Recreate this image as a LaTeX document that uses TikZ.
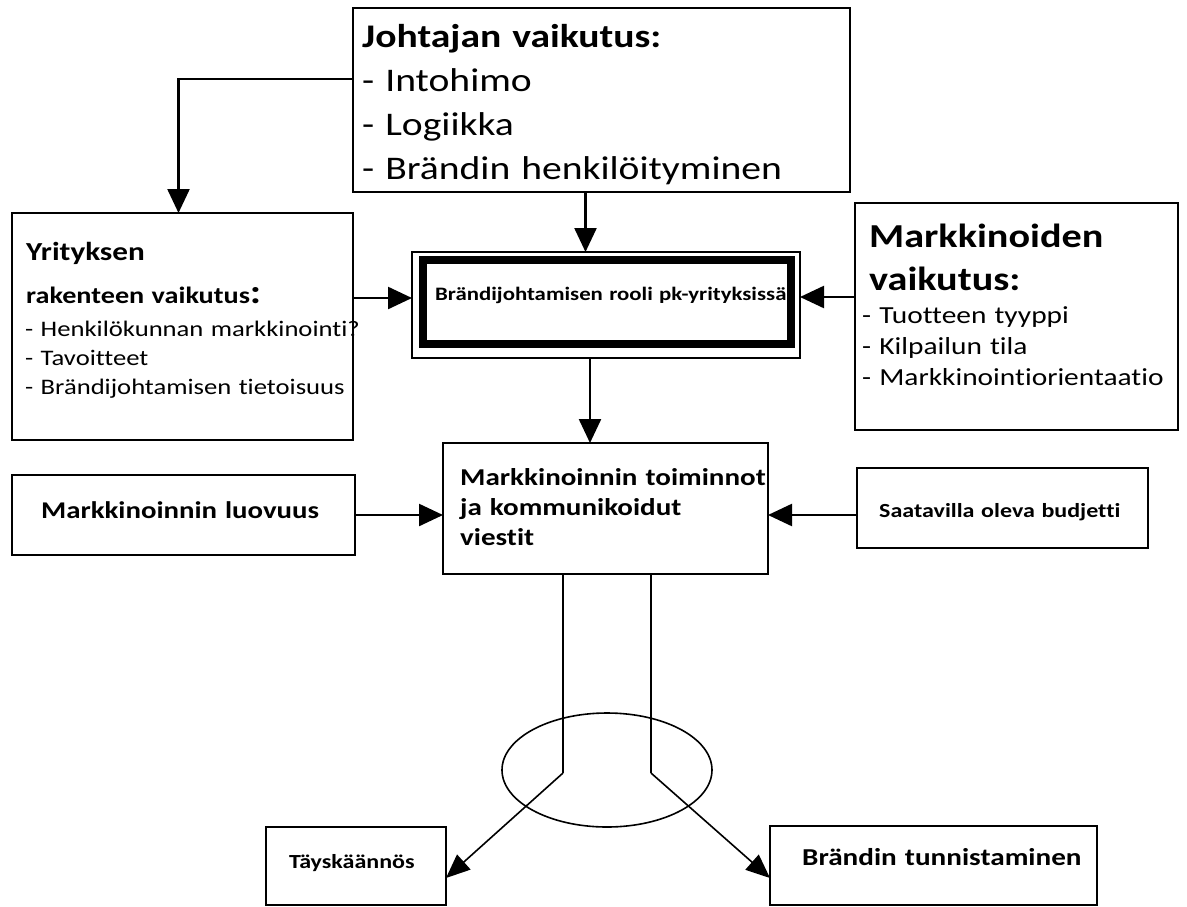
\documentclass[tikz,border=0pt]{standalone}
\usepackage{fontspec}
\setmainfont{Carlito}[FakeStretch=1.2,Ligatures=NoCommon]
\usetikzlibrary{positioning,arrows.meta,shapes.geometric}

\begin{document}
\begin{tikzpicture}[x=1pt,y=-1pt,
  box/.style={draw,line width=2.2pt,inner sep=0pt,outer sep=0pt},
  arr/.style={line width=2.4pt,-{Triangle[length=24pt,width=22pt]}},
  ohut/.style={line width=1.6pt},
  ohutarr/.style={line width=1.6pt,-{Triangle[length=24pt,width=20pt]}},
  txt/.style={anchor=base west,align=left,inner sep=0pt,text width=#1},
  txt/.default=420pt]
\useasboundingbox (0,0) rectangle (1187,906);
% --- laatikot ---
\node[box,minimum width=497,minimum height=184] (johtaja) at (601.5,100) {};
\node[box,minimum width=341,minimum height=227] (yritys) at (182.5,326.5) {};
\node[box,minimum width=323,minimum height=227] (markkinat) at (1016.5,316.5) {};
\node[box,line width=1.6pt,minimum width=388,minimum height=106] (rooli) at (606,305) {};
\node[box,line width=8pt,minimum width=368,minimum height=84] (rooliIn) at (606.75,301.75) {};
\node[box,minimum width=325,minimum height=131] (toiminnot) at (605.5,508.5) {};
\node[box,minimum width=343,minimum height=80] (luovuus) at (183.5,515) {};
\node[box,minimum width=291,minimum height=80] (budjetti) at (1002.5,508) {};
\node[box,minimum width=180,minimum height=78] (tays) at (356,866) {};
\node[box,minimum width=327,minimum height=79] (tunnistus) at (933.5,865.5) {};
\node[draw,ohut,ellipse,minimum width=210,minimum height=114] (rengas) at (607,770) {};
% --- tekstit ---
\node[txt=480pt,font=\fontsize{33}{44}\selectfont] (johtajaT) at ([shift={(9,39)}]johtaja.north west)
  {\textbf{Johtajan vaikutus:}\\- Intohimo\\- Logiikka\\- Brändin henkilöityminen};
\node[txt,font=\fontsize{22.2}{29}\selectfont] (yritysT) at ([shift={(13,47)}]yritys.north west)
  {{\fontsize{26}{29}\selectfont\bfseries\hspace*{1pt}Yrityksen}\\[14pt]
   {\fontsize{23.5}{29}\selectfont\bfseries\hspace*{1pt}rakenteen vaikutus{\fontsize{34}{29}\selectfont :}}\\[4pt]
   - Henkilökunnan markkinointi?\\- Tavoitteet\\- Brändijohtamisen tietoisuus};
\node[txt,font=\fontsize{24.5}{31}\selectfont] (markkinatT) at ([shift={(7,44)}]markkinat.north west)
  {{\fontsize{33.5}{31}\selectfont\bfseries\hspace*{7pt}Markkinoiden}\\[12pt]
   {\fontsize{33.5}{31}\selectfont\bfseries\hspace*{7pt}vaikutus:}\\[2pt]
   - Tuotteen tyyppi\\- Kilpailun tila\\- Markkinointiorientaatio};
\node[txt,font=\fontsize{19}{23}\selectfont\bfseries] (rooliT) at ([shift={(23,48)}]rooli.north west)
  {Brändijohtamisen rooli pk-yrityksissä};
\node[txt,font=\fontsize{24.2}{30}\selectfont\bfseries] (toiminnotT) at ([shift={(17,42)}]toiminnot.north west)
  {Markkinoinnin toiminnot\\ja kommunikoidut\\viestit};
\node[txt,font=\fontsize{24}{28}\selectfont\bfseries] (luovuusT) at ([shift={(29,43)}]luovuus.north west)
  {Markkinoinnin luovuus};
\node[txt,font=\fontsize{20}{24}\selectfont\bfseries] (budjettiT) at ([shift={(22,49)}]budjetti.north west)
  {Saatavilla oleva budjetti};
\node[txt,font=\fontsize{20}{24}\selectfont\bfseries] (taysT) at ([shift={(23,41)}]tays.north west)
  {Täyskäännös};
\node[txt,font=\fontsize{24.3}{29}\selectfont\bfseries] (tunnistusT) at ([shift={(32,39)}]tunnistus.north west)
  {Brändin tunnistaminen};
% --- nuolet ---
\coordinate (johtajaV) at ([yshift=21pt]johtaja.west);
\coordinate (rooliV) at ([yshift=7pt]rooli.west);
\coordinate (rooliO) at ([yshift=8pt]rooli.east);
\coordinate (johtajaA) at ([xshift=-16pt]johtaja.south);
\coordinate (rooliA) at ([xshift=-16pt]rooli.south);
\draw[arr] (johtajaV) -| ([xshift=-4pt]yritys.north);
\draw[arr] (johtajaA) -- (johtajaA |- rooli.north);
\draw[arr] (yritys.east |- rooliV) -- (rooliV);
\draw[arr] (markkinat.west |- rooliO) -- (rooliO);
\draw[arr] (rooliA) -- (rooliA |- toiminnot.north);
\draw[arr] (luovuus.east) -- (toiminnot.west |- luovuus.east);
\draw[arr] (budjetti.west |- luovuus.east) -- (toiminnot.east |- luovuus.east);
% --- haarautuvat viivat ---
\coordinate (vasen) at (563,773);
\coordinate (oikea) at (651,773);
\draw[ohut] (toiminnot.south -| vasen) -- (vasen);
\draw[ohut] (toiminnot.south -| oikea) -- (oikea);
\draw[ohutarr] (vasen) -- ([yshift=-12pt]tays.east);
\draw[ohutarr] (oikea) -- ([yshift=-12.5pt]tunnistus.west);
\end{tikzpicture}
\end{document}
